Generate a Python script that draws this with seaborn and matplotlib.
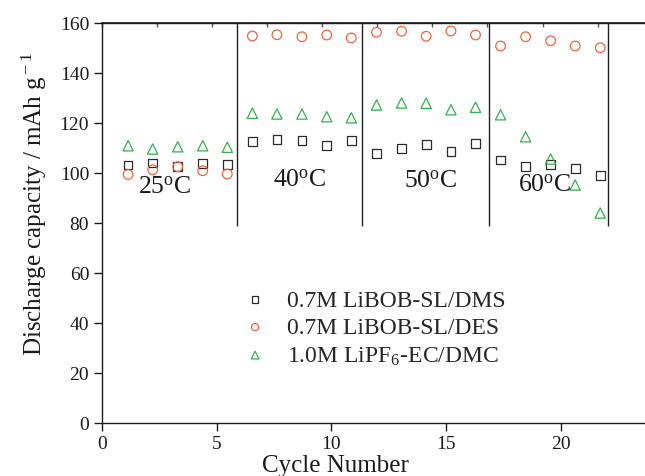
import numpy as np
import pandas as pd
import matplotlib
matplotlib.use("Agg")
import matplotlib.pyplot as plt
import seaborn as sns

# ---- data ----
cycle_pos = [1.15, 2.22, 3.31, 4.40, 5.47, 6.56, 7.63, 8.72, 9.80, 10.87,
             11.97, 13.06, 14.13, 15.21, 16.28, 17.37, 18.46, 19.55, 20.62, 21.71]
dms = [103.2, 104.0, 102.5, 103.9, 103.3, 112.5, 113.5, 113.1, 111.1, 113.1,
       107.9, 109.7, 111.5, 108.5, 111.9, 105.2, 102.7, 103.5, 101.9, 99.1]
des = [99.4, 101.3, 102.5, 100.9, 99.6, 154.8, 155.3, 154.5, 155.2, 154.0,
       156.3, 156.7, 154.7, 156.8, 155.2, 150.8, 154.5, 152.9, 150.8, 150.1]
lipf6 = [110.9, 109.6, 110.5, 110.9, 110.3, 123.9, 123.6, 123.6, 122.5, 122.1,
         127.2, 128.0, 127.9, 125.3, 126.3, 123.3, 114.5, 105.6, 95.2, 84.0]
series_names = ["0.7M LiBOB-SL/DMS", "0.7M LiBOB-SL/DES", "1.0M LiPF$_6$-EC/DMC"]
dividers = [5.89, 11.33, 16.88, 22.05]
divider_range = (79, 160)
temp_labels = ["25$^{\\rm o}$C", "40$^{\\rm o}$C", "50$^{\\rm o}$C", "60$^{\\rm o}$C"]
temp_x = [2.74, 8.63, 14.34, 19.30]
temp_y = [94.6, 97.2, 96.8, 95.2]

sns.set_theme(style="ticks")
plt.rcParams["font.family"] = ["Liberation Serif", "DejaVu Serif"]
plt.rcParams["mathtext.fontset"] = "custom"
plt.rcParams["mathtext.rm"] = "Liberation Serif"
plt.rcParams["mathtext.it"] = "Liberation Serif:italic"
plt.rcParams["mathtext.bf"] = "Liberation Serif:bold"

fig = plt.figure(figsize=(6.45, 4.77), dpi=100)
ax = fig.add_axes([101.7 / 645, 53 / 477, 551.1 / 645, 400 / 477])

styles = [("s", "#2b2b2b", 40), ("o", "#f0623f", 48), ("^", "#2fb24a", 55)]
for name, vals, (mk, col, sz) in zip(series_names, [dms, des, lipf6], styles):
    df = pd.DataFrame({"Cycle": cycle_pos, "Capacity": vals})
    sns.scatterplot(data=df, x="Cycle", y="Capacity", ax=ax, marker=mk, s=sz,
                    color=col, facecolor="none", edgecolor=col, linewidth=0.9,
                    label=name, zorder=3)

ax.vlines(dividers, divider_range[0], divider_range[1], color="#222222", lw=1.0, zorder=2)

for t, x, y in zip(temp_labels, temp_x, temp_y):
    ax.text(x, y, t, ha="center", va="center", fontsize=18.5, color="#1a1a1a")

ax.set_xlim(0, 24)
ax.set_ylim(0, 160)
ax.set_xticks([0, 5, 10, 15, 20])
ax.set_yticks(np.arange(0, 161, 20))
ax.tick_params(axis="both", direction="out", length=6, width=1, labelsize=14,
               colors="#1a1a1a", pad=3)
for side in ["left", "bottom", "top"]:
    ax.spines[side].set_linewidth(1.0)
    ax.spines[side].set_color("#1a1a1a")
ax.spines["right"].set_visible(False)

sec = ax.secondary_xaxis("top")
sec.set_xticks(np.arange(0, 24.01, 2.4))
sec.set_xticklabels([])
sec.tick_params(direction="in", length=3, width=1, colors="#555555")

ax.set_xlabel("Cycle Number", fontsize=18, color="#1a1a1a")
ax.xaxis.set_label_coords(0.4233, -0.078)
ax.set_ylabel("Discharge capacity / mAh g$^{\\rm -1}$", fontsize=18, color="#1a1a1a")
ax.yaxis.set_label_coords(-0.095, 0.549)

leg = ax.legend(loc="center left", bbox_to_anchor=(0.257, 0.2375), frameon=False,
                fontsize=17, markerscale=0.75, handlelength=1.0, handletextpad=0.85,
                borderpad=0, borderaxespad=0, labelspacing=0.25)

fig.savefig("out.png", dpi=100)
